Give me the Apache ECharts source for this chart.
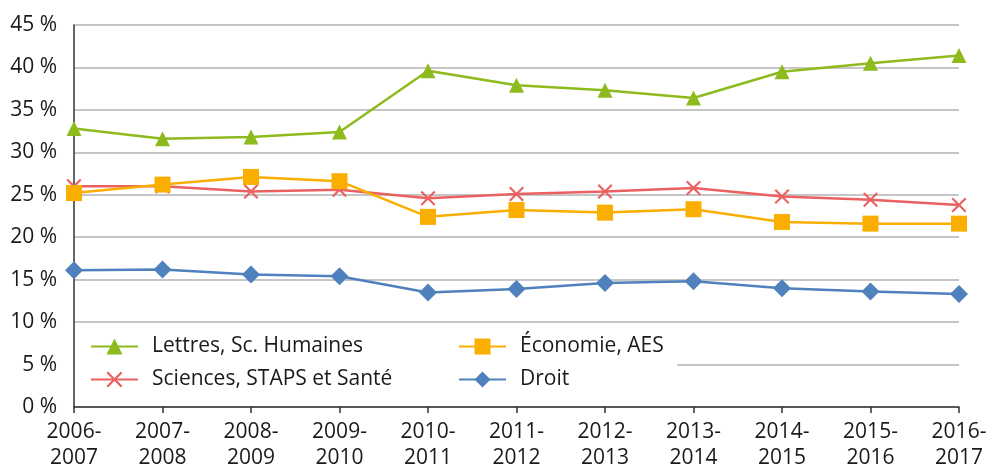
<!DOCTYPE html>
<html>
<head>
<meta charset="utf-8">
<script src="https://cdn.jsdelivr.net/npm/echarts@6/dist/echarts.min.js"></script>
<style>
  html, body { margin: 0; padding: 0; background: #fff; }
  #chart { width: 995px; height: 466px; }
</style>
</head>
<body>
<div id="chart"></div>
<script>
var years = ['2006-\n2007', '2007-\n2008', '2008-\n2009', '2009-\n2010', '2010-\n2011',
  '2011-\n2012', '2012-\n2013', '2013-\n2014', '2014-\n2015', '2015-\n2016', '2016-\n2017'];

var lettres = [32.8, 31.6, 31.8, 32.4, 39.6, 37.9, 37.3, 36.4, 39.5, 40.5, 41.4];
var sciences = [26.0, 26.0, 25.4, 25.6, 24.6, 25.1, 25.4, 25.8, 24.8, 24.4, 23.8];
var economie = [25.2, 26.2, 27.1, 26.6, 22.4, 23.2, 22.9, 23.3, 21.8, 21.6, 21.6];
var droit = [16.1, 16.2, 15.6, 15.4, 13.5, 13.9, 14.6, 14.8, 14.0, 13.6, 13.3];

var FONT = '"Open Sans", sans-serif';
// filled X shape so the cross keeps its thickness
var crossPath = 'path://M0,1L1,0L5,4L9,0L10,1L6,5L10,9L9,10L5,6L1,10L0,9L4,5Z';

function lineSerie(name, data, color, symbol, size) {
  return {
    name: name,
    type: 'line',
    data: data,
    symbol: symbol,
    symbolSize: size,
    showAllSymbol: true,
    lineStyle: { color: color, width: 2.5 },
    itemStyle: { color: color },
    emphasis: { disabled: true },
    animation: false
  };
}

var chart = echarts.init(document.getElementById('chart'));

var legendText = { fontFamily: FONT, fontSize: 21, color: '#1a1a1a', padding: [0, 0, 0, 9] };

chart.setOption({
  animation: false,
  grid: { left: 74, right: 36, top: 25, bottom: 59, containLabel: false, outerBoundsMode: 'none' },
  graphic: [{
    type: 'rect',
    z: 1,
    shape: { x: 75, y: 334, width: 602, height: 62 },
    style: { fill: '#fff' }
  }],
  legend: [{
    data: ['Lettres, Sc. Humaines', 'Sciences, STAPS et Santé'],
    orient: 'vertical',
    left: 90,
    top: 336,
    padding: 0,
    itemWidth: 47,
    itemHeight: 20,
    itemGap: 12,
    textStyle: legendText
  }, {
    data: ['Économie, AES', 'Droit'],
    orient: 'vertical',
    left: 458,
    top: 336,
    padding: 0,
    itemWidth: 47,
    itemHeight: 20,
    itemGap: 12,
    textStyle: legendText
  }],
  xAxis: {
    type: 'category',
    data: years,
    boundaryGap: false,
    axisLine: { lineStyle: { color: '#333', width: 1.5 } },
    axisTick: { show: true, length: 6, lineStyle: { color: '#333', width: 1.5 } },
    axisLabel: {
      fontFamily: FONT, fontSize: 21, color: '#1a1a1a',
      lineHeight: 26, margin: 12, interval: 0
    },
    splitLine: { show: false }
  },
  yAxis: {
    type: 'value',
    min: 0,
    max: 45,
    interval: 5,
    axisLine: { show: true, lineStyle: { color: '#333', width: 1.5 } },
    axisTick: { show: false },
    axisLabel: {
      fontFamily: FONT, fontSize: 21, color: '#1a1a1a', margin: 17,
      formatter: function (v) { return v + ' %'; }
    },
    splitLine: { lineStyle: { color: '#b3b3b3', width: 1.5 } }
  },
  series: [
    lineSerie('Lettres, Sc. Humaines', lettres, '#8dba1c', 'triangle', 15),
    lineSerie('Sciences, STAPS et Santé', sciences, '#eb6060', crossPath, 15),
    lineSerie('Économie, AES', economie, '#f9ae00', 'rect', 16),
    lineSerie('Droit', droit, '#4f81bd', 'diamond', 18)
  ]
});
</script>
</body>
</html>
